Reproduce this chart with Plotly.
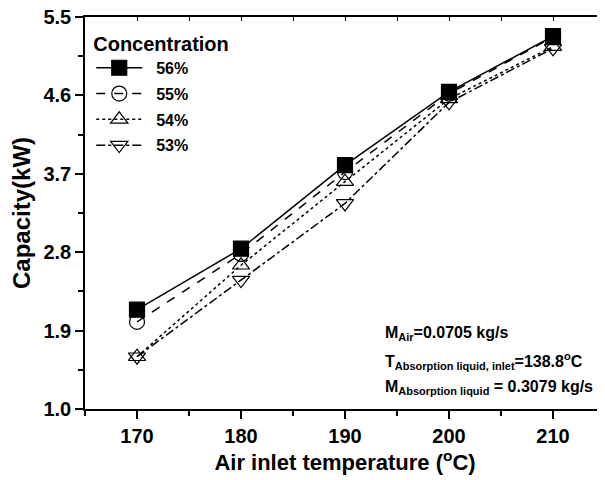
import plotly.graph_objects as go

temps = [170, 180, 190, 200, 210]
c56 = [2.14, 2.84, 3.80, 4.64, 5.28]
c55 = [2.00, 2.78, 3.72, 4.62, 5.27]
c54 = [1.60, 2.65, 3.61, 4.56, 5.16]
c53 = [1.60, 2.48, 3.36, 4.52, 5.14]
names = ["56%", "55%", "54%", "53%"]
y_ticks = [1.0, 1.9, 2.8, 3.7, 4.6, 5.5]
x_ticks = [170, 180, 190, 200, 210]

FONT = "Liberation Sans, Arial, sans-serif"

styles = [
    dict(dash="solid", symbol="square"),
    dict(dash="dash", symbol="circle-open"),
    dict(dash="dot", symbol="triangle-up-open"),
    dict(dash="dashdot", symbol="triangle-down-open"),
]

fig = go.Figure()
for name, vals, st in zip(names, [c56, c55, c54, c53], styles):
    fig.add_trace(go.Scatter(
        x=temps, y=vals, name=f"&nbsp;&nbsp;<b>{name}</b>", legendgroup=name,
        mode="lines+markers",
        line=dict(color="black", width=1.5, dash=st["dash"]),
        marker=dict(symbol=st["symbol"], size=15, color="black",
                    line=dict(color="black", width=1.2)),
    ))

# invisible trace to activate the top mirror axis
fig.add_trace(go.Scatter(x=[None], y=[None], xaxis="x2", showlegend=False,
                         hoverinfo="skip"))

fig.update_layout(
    width=597, height=472,
    margin=dict(l=77, r=0, t=9, b=71),
    paper_bgcolor="white", plot_bgcolor="white",
    font=dict(family=FONT, color="black"),
    showlegend=True,
    legend=dict(
        x=0.012, y=0.98, xanchor="left", yanchor="top",
        bgcolor="rgba(0,0,0,0)",
        title=dict(text="<b>Concentration</b>", font=dict(size=20, family=FONT)),
        font=dict(size=16, family=FONT),
        tracegroupgap=2, itemsizing="trace", itemwidth=46,
    ),
    xaxis=dict(
        range=[165, 215], tickvals=x_ticks,
        ticktext=[f"<b>{t}</b>" for t in x_ticks],
        ticks="outside", ticklen=8, tickwidth=1.5, tickcolor="black",
        minor=dict(dtick=5, tick0=165, ticks="outside", ticklen=5, tickwidth=1.5, tickcolor="black"),
        showline=True, linecolor="black", linewidth=1.5, mirror=True,
        showgrid=False, zeroline=False, automargin=False,
        ticklabeloverflow="allow",
        tickfont=dict(size=20, family=FONT),
        title=dict(text="<b>Air inlet temperature (<sup>o</sup>C)</b>",
                   font=dict(size=22, family=FONT), standoff=6),
    ),
    xaxis2=dict(
        range=[165, 215], overlaying="x", side="top", dtick=5, tick0=165,
        ticks="inside", ticklen=4, tickwidth=1.2, tickcolor="black",
        showline=True, linecolor="black", linewidth=1.5, automargin=False,
        showticklabels=False, showgrid=False, zeroline=False,
    ),
    yaxis=dict(
        range=[1.0, 5.5], tickvals=y_ticks,
        ticktext=[f"<b>{t:.1f}</b>" for t in y_ticks],
        ticks="outside", ticklen=8, tickwidth=1.5, tickcolor="black",
        minor=dict(dtick=0.45, tick0=1.0, ticks="outside", ticklen=5, tickwidth=1.5, tickcolor="black"),
        showline=True, linecolor="black", linewidth=1.5,
        showgrid=False, zeroline=False, automargin=False,
        ticklabeloverflow="allow",
        tickfont=dict(size=20, family=FONT),
        title=dict(text="<b>Capacity(kW)</b>", font=dict(size=24, family=FONT), standoff=12),
    ),
)

SUB = '<sub><span style="font-size:11px">{}</span></sub>'
ann = [
    ("<b>M" + SUB.format("Air") + "=0.0705 kg/s</b>", 0.193),
    ("<b>T" + SUB.format("Absorption liquid, inlet") + "=138.8<sup>o</sup>C</b>", 0.123),
    ("<b>M" + SUB.format("Absorption liquid") + " = 0.3079 kg/s</b>", 0.054),
]
for txt, yy in ann:
    fig.add_annotation(text=txt, xref="paper", yref="paper", x=0.573, y=yy,
                       xanchor="left", yanchor="middle", showarrow=False,
                       font=dict(size=16, family=FONT, color="black"))

fig.write_html("out.html")
